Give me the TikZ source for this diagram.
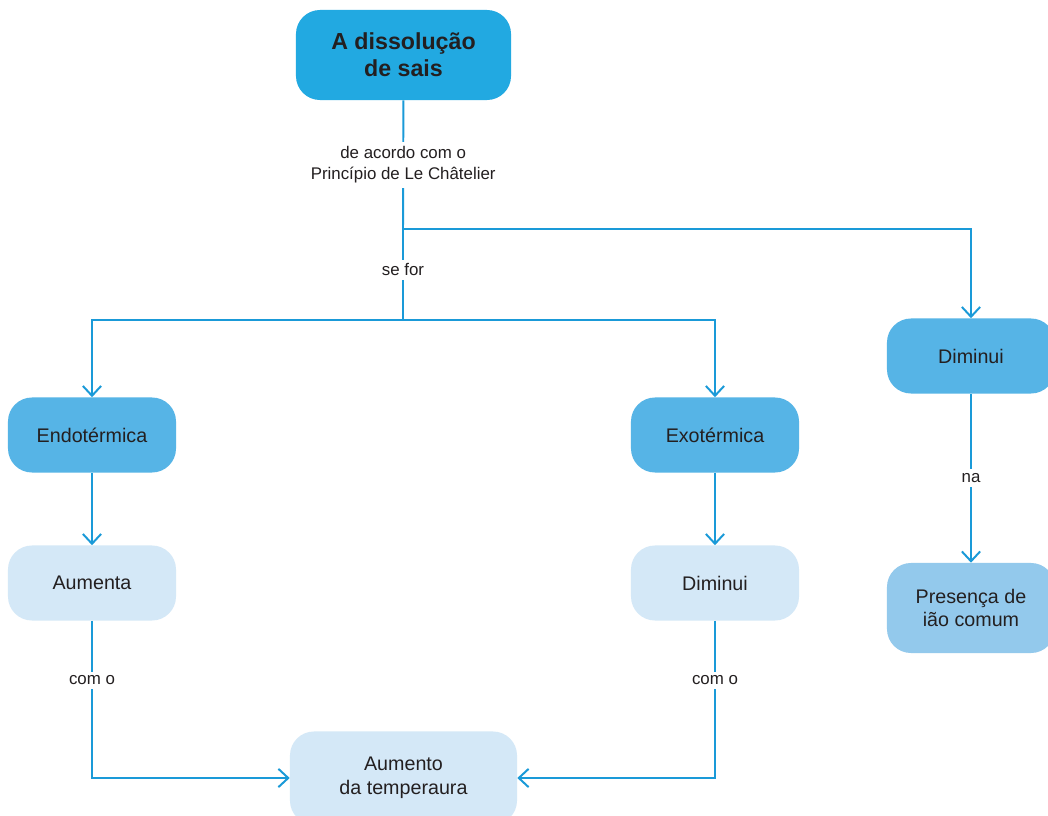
\documentclass[tikz,border=0pt]{standalone}
\usepackage{fontspec}
\setmainfont{Liberation Sans}
\usetikzlibrary{arrows.meta, positioning}

\definecolor{topblue}{HTML}{22A9E1}
\definecolor{midblue}{HTML}{56B4E6}
\definecolor{paleblue}{HTML}{D4E8F7}
\definecolor{ionblue}{HTML}{93C9EC}
\definecolor{linkblue}{HTML}{1A9AD8}
\definecolor{ink}{HTML}{231F20}

\begin{document}
\begin{tikzpicture}[x=0.025cm, y=-0.025cm,
    box/.style={rounded corners=0.6cm, align=center, text=ink,
      minimum width=4.2cm, minimum height=1.875cm,
      font=\fontsize{14}{17}\selectfont},
    strong/.style={box, fill=midblue},
    pale/.style={box, fill=paleblue},
    lbl/.style={fill=white, text=ink, align=center, inner sep=3pt,
      font=\fontsize{12}{15.6}\selectfont},
    link/.style={draw=linkblue, line width=1.4pt},
    tip/.style={link, -{Straight Barb[length=7pt, width=13pt, line width=1.4pt]}}]

    % Background
    \useasboundingbox[fill=white] (0,0) rectangle (1048,816);

    % Boxes
    \node[box, fill=topblue, minimum width=5.375cm, minimum height=2.25cm,
      font=\fontsize{16.5}{19}\selectfont\bfseries] (sais) at (403.5,55) {A dissolução\\de sais};

    \node[strong] (endo) at (92,435) {Endotérmica};
    \node[strong] (exo) at (715,435) {Exotérmica};
    \node[strong] (dimR) at (971,356) {Diminui};

    \node[pale] (aum) at (92,583) {Aumenta};
    \node[pale] (dimM) at (715,583) {Diminui};
    \node[box, fill=ionblue, minimum height=2.25cm] (ion) at (971,608) {Presença de\\ião comum};
    \node[pale, minimum width=5.675cm, minimum height=2.325cm] (temp) at (403.5,778) {Aumento\\da temperaura};

    % Connectors
    \coordinate (split) at (403,229);
    \coordinate (fork) at (403,320);

    \draw[link] (sais) -- node[lbl] {de acordo com o\\Princípio de Le Châtelier} (split)
      -- node[lbl, pos=0.45] {se for} (fork);
    \draw[tip] (split) -| (dimR);
    \draw[tip] (fork) -| (endo);
    \draw[tip] (fork) -| (exo);

    \draw[tip] (endo) -- (aum);
    \draw[tip] (exo) -- (dimM);
    \draw[tip] (dimR) -- node[lbl] {na} (ion);

    \draw[tip] (aum) |- node[lbl, pos=0.19] {com o} (temp);
    \draw[tip] (dimM) |- node[lbl, pos=0.19] {com o} (temp);

\end{tikzpicture}
\end{document}
